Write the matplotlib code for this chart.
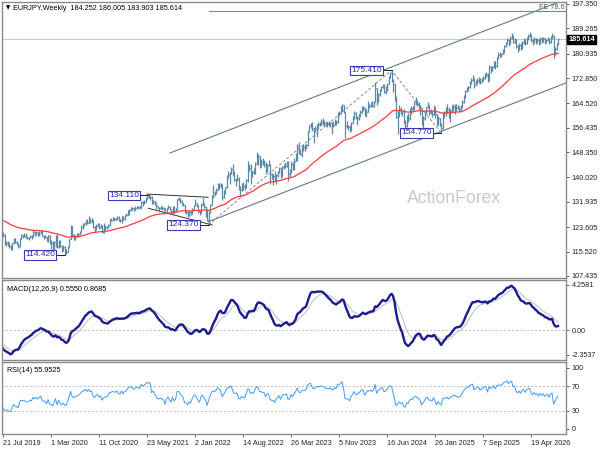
import numpy as np
import matplotlib
matplotlib.use("Agg")
import matplotlib.pyplot as plt
from matplotlib.collections import LineCollection
from matplotlib.transforms import blended_transform_factory

# ---- weekly EURJPY bars, open = previous close -----------------------------
first_open = 121.4
closes = [
    120.9, 118.0, 118.3, 118.0, 117.2, 116.6, 118.2, 119.8, 118.6, 118.2,
    117.2, 119.8, 121.0, 120.6, 120.8, 120.3, 119.9, 120.1, 120.7, 120.4,
    121.9, 121.2, 121.9, 121.1, 121.8, 122.4, 120.8, 120.2, 120.3, 119.1,
    120.6, 118.6, 118.2, 117.6, 118.6, 120.3, 116.9, 119.0, 117.2, 116.1,
    117.0, 115.6, 115.3, 117.1, 119.6, 123.8, 120.9, 119.8, 120.5, 121.1,
    121.2, 122.1, 123.7, 124.3, 124.8, 125.8, 124.9, 126.4, 125.5, 126.0,
    123.5, 122.9, 124.0, 124.6, 123.5, 124.0, 121.9, 123.0, 123.6, 123.6,
    124.2, 126.0, 126.0, 126.4, 126.3, 126.2, 126.8, 125.9, 125.9, 127.2,
    126.3, 127.5, 127.6, 128.9, 129.4, 130.0, 129.8, 129.3, 129.8, 130.3,
    130.2, 130.0, 132.0, 131.7, 132.0, 132.8, 133.6, 133.5, 133.6, 131.5,
    132.2, 131.4, 130.7, 130.0, 130.0, 130.2, 129.9, 129.7, 128.3, 129.9,
    130.4, 129.4, 128.8, 130.3, 129.0, 129.5, 132.8, 133.0, 132.3, 131.5,
    130.9, 128.6, 128.5, 127.5, 128.6, 128.0, 129.6, 130.9, 131.4, 130.5,
    129.0, 128.3, 131.0, 131.5, 130.1, 129.2, 126.0, 128.6, 131.0, 134.0,
    135.0, 134.8, 135.8, 138.0, 137.5, 136.7, 133.5, 135.0, 136.8, 140.5,
    141.0, 141.7, 142.9, 140.9, 139.3, 139.0, 139.5, 136.3, 136.0, 137.5,
    137.1, 136.8, 139.0, 143.4, 143.2, 141.0, 141.8, 141.5, 144.5, 147.5,
    147.0, 144.7, 145.1, 144.5, 144.5, 142.3, 144.1, 144.3, 141.2, 140.4,
    140.4, 139.0, 140.8, 141.8, 143.0, 140.9, 143.3, 144.0, 143.8, 144.3,
    141.2, 141.9, 144.5, 143.3, 145.6, 146.9, 150.5, 148.4, 147.8, 149.4,
    150.2, 150.0, 150.8, 155.2, 157.2, 157.9, 156.2, 155.2, 156.0, 156.9,
    157.6, 157.4, 158.3, 158.1, 157.9, 157.3, 157.6, 157.4, 157.9, 157.5,
    157.3, 158.6, 158.3, 161.4, 161.2, 162.3, 163.8, 161.6, 157.0, 156.8,
    156.8, 155.7, 158.1, 159.4, 161.4, 160.1, 159.8, 160.9, 161.8, 163.0,
    163.1, 160.9, 161.8, 163.8, 163.5, 164.2, 163.7, 164.8, 169.6, 165.1,
    167.6, 168.7, 170.0, 170.6, 168.4, 169.0, 171.0, 173.2, 174.6, 174.2,
    170.8, 166.2, 159.9, 161.0, 162.7, 161.5, 161.9, 158.0, 157.0, 160.0,
    159.6, 162.0, 163.1, 162.5, 164.8, 165.2, 164.2, 163.8, 162.4, 158.4,
    159.8, 161.2, 163.3, 163.8, 161.5, 161.7, 160.9, 163.3, 160.9, 157.3,
    159.5, 157.4, 156.2, 160.6, 161.8, 161.3, 162.3, 160.9, 161.9, 162.5,
    163.4, 164.0, 163.1, 162.8, 162.6, 163.3, 165.0, 166.8, 168.6, 169.4,
    169.8, 171.4, 172.3, 172.8, 170.6, 171.8, 172.2, 172.6, 171.5, 172.4,
    172.8, 174.2, 174.0, 172.2, 176.5, 175.6, 176.6, 178.2, 176.8, 179.4,
    180.6, 180.5, 180.9, 181.6, 183.5, 184.2, 185.3, 184.4, 186.2, 186.8,
    184.9, 185.4, 183.4, 182.6, 183.8, 182.9, 184.6, 185.5, 184.3, 185.8,
    186.9, 187.2, 185.3, 184.6, 185.8, 184.9, 185.6, 184.4, 185.9, 185.1,
    186.0, 184.8, 185.4, 185.9, 184.7, 186.3, 186.9, 181.0, 182.5, 184.252,
    185.614,
]
highs = [
    121.9, 121.3, 118.9, 119.1, 118.6, 117.7, 118.4, 120.0, 119.9, 119.0,
    118.4, 120.0, 121.3, 121.1, 121.5, 121.5, 120.7, 120.4, 120.9, 121.0,
    122.7, 122.2, 122.0, 122.0, 122.2, 122.8, 122.5, 120.9, 121.0, 120.4,
    121.0, 121.0, 119.3, 119.0, 119.0, 121.0, 121.2, 119.3, 119.2, 117.5,
    117.7, 117.2, 116.5, 117.4, 119.8, 124.4, 123.8, 121.2, 121.1, 121.8,
    121.8, 122.4, 124.2, 124.8, 125.1, 126.0, 126.4, 127.1, 126.7, 126.5,
    126.1, 124.0, 124.6, 125.0, 124.9, 124.5, 124.2, 124.8, 124.2, 124.0,
    124.7, 126.3, 126.6, 127.0, 126.8, 126.7, 127.3, 127.1, 126.4, 127.3,
    127.3, 127.6, 128.1, 129.2, 129.6, 130.2, 130.3, 130.0, 130.5, 130.7,
    130.6, 130.7, 132.1, 132.2, 132.5, 133.4, 133.9, 134.11, 134.0, 133.8,
    132.5, 132.3, 131.9, 130.7, 130.3, 130.6, 130.7, 130.4, 129.8, 130.0,
    130.8, 130.6, 129.6, 130.6, 130.5, 130.0, 133.0, 133.5, 133.2, 132.5,
    131.7, 131.0, 129.4, 128.8, 128.9, 128.9, 129.8, 131.0, 133.0, 131.6,
    130.8, 129.2, 131.4, 133.2, 131.7, 130.6, 129.7, 128.9, 131.3, 134.2,
    137.5, 135.5, 136.5, 138.3, 138.3, 138.3, 137.7, 135.8, 137.0, 140.8,
    142.3, 141.9, 143.5, 144.3, 142.3, 139.9, 141.0, 140.1, 137.3, 138.3,
    138.4, 137.7, 139.4, 145.6, 144.4, 144.6, 142.3, 143.0, 145.0, 148.4,
    147.9, 147.2, 146.0, 146.4, 145.8, 145.0, 144.5, 145.7, 144.5, 141.5,
    141.0, 142.0, 141.3, 142.3, 143.5, 143.1, 143.9, 144.3, 145.2, 145.6,
    145.4, 142.9, 145.3, 145.1, 146.3, 148.0, 151.0, 151.6, 149.5, 150.3,
    151.0, 151.0, 151.0, 155.4, 157.5, 158.0, 158.3, 156.5, 157.0, 157.6,
    158.2, 158.5, 159.3, 159.8, 159.0, 158.4, 158.6, 158.6, 158.5, 158.4,
    158.6, 159.4, 159.1, 161.6, 162.1, 163.7, 164.3, 163.9, 161.7, 158.7,
    157.5, 157.3, 158.4, 160.3, 161.9, 161.8, 160.4, 161.0, 162.3, 163.7,
    163.7, 163.3, 162.5, 165.3, 164.2, 164.9, 165.3, 165.2, 171.6, 169.7,
    168.0, 169.1, 170.2, 171.0, 170.9, 170.1, 171.2, 173.4, 175.0, 175.41,
    172.4, 170.9, 166.8, 162.0, 163.8, 163.4, 162.1, 162.6, 159.1, 160.5,
    161.3, 163.0, 163.5, 163.6, 165.4, 166.7, 165.5, 165.0, 163.9, 162.8,
    160.2, 161.6, 163.4, 164.9, 164.0, 162.6, 162.0, 164.0, 163.3, 160.9,
    160.2, 159.7, 158.0, 161.2, 162.0, 163.2, 164.2, 163.4, 162.6, 164.0,
    164.2, 164.4, 164.4, 164.1, 163.5, 163.9, 165.6, 167.1, 169.0, 170.0,
    170.2, 172.0, 173.0, 173.9, 173.0, 172.2, 172.8, 173.1, 173.0, 173.0,
    173.5, 174.4, 174.8, 174.5, 177.3, 176.9, 177.0, 178.6, 178.4, 179.8,
    181.6, 181.4, 181.2, 182.4, 183.8, 184.8, 186.0, 185.8, 186.6, 187.9,
    187.0, 186.2, 185.7, 183.9, 184.5, 184.4, 185.0, 186.1, 185.9, 186.3,
    187.4, 188.1, 187.5, 185.9, 186.4, 186.2, 186.0, 185.9, 186.3, 186.4,
    186.5, 186.2, 185.9, 186.4, 186.1, 186.6, 187.6, 187.0, 183.2, 184.6,
    186.005,
]
lows = [
    120.4, 117.6, 117.2, 117.5, 116.6, 115.9, 116.1, 117.9, 118.4, 117.6,
    116.7, 117.1, 119.6, 120.1, 120.3, 120.1, 119.5, 119.3, 119.9, 119.6,
    120.3, 120.8, 121.0, 120.5, 120.8, 121.7, 120.5, 119.6, 120.0, 118.9,
    118.8, 117.9, 116.4, 115.9, 115.4, 117.0, 116.6, 116.8, 116.9, 115.5,
    115.7, 114.42, 114.8, 115.2, 116.9, 119.5, 120.2, 119.4, 119.3, 120.3,
    120.3, 121.0, 122.1, 122.9, 123.9, 124.4, 124.6, 124.8, 125.0, 124.8,
    123.3, 121.9, 122.6, 123.8, 123.0, 123.2, 121.6, 121.8, 122.4, 122.9,
    123.4, 124.1, 125.6, 125.9, 125.5, 125.8, 125.9, 125.6, 125.4, 125.1,
    125.8, 126.1, 127.2, 127.5, 127.7, 129.0, 129.3, 128.8, 129.1, 129.8,
    129.6, 129.5, 129.9, 130.7, 131.2, 131.8, 132.8, 133.1, 132.4, 131.3,
    131.1, 130.8, 129.7, 129.8, 128.6, 129.6, 129.3, 129.1, 127.9, 128.1,
    129.7, 129.2, 128.4, 127.9, 128.3, 129.0, 129.4, 132.2, 131.6, 130.8,
    130.6, 128.3, 127.8, 127.0, 127.4, 127.6, 127.9, 129.5, 130.6, 130.1,
    128.3, 127.6, 128.3, 130.9, 129.9, 127.0, 125.6, 124.37, 128.4, 130.9,
    133.3, 133.8, 134.5, 135.7, 136.3, 136.4, 132.7, 133.3, 134.5, 136.6,
    139.8, 138.0, 141.0, 140.6, 138.8, 137.3, 138.7, 136.0, 133.4, 135.6,
    135.9, 135.8, 136.6, 138.4, 142.2, 138.0, 140.3, 141.2, 141.3, 144.3,
    144.2, 143.2, 143.4, 144.1, 143.3, 141.2, 141.9, 143.7, 137.8, 139.6,
    137.4, 138.8, 138.0, 140.3, 141.5, 139.9, 140.3, 142.8, 143.1, 143.3,
    138.8, 140.0, 141.6, 142.5, 142.6, 145.4, 145.3, 147.8, 147.3, 146.9,
    148.9, 148.6, 149.3, 150.4, 155.1, 156.5, 155.5, 151.5, 154.9, 153.5,
    155.9, 156.9, 157.3, 157.3, 157.1, 157.0, 156.6, 156.9, 156.6, 154.4,
    156.8, 157.2, 157.2, 158.0, 160.3, 161.0, 162.1, 161.2, 153.2, 156.2,
    155.6, 155.1, 155.3, 158.0, 159.2, 159.2, 157.3, 158.9, 160.1, 161.3,
    162.0, 160.3, 159.9, 161.5, 163.0, 163.4, 163.2, 163.2, 164.8, 164.0,
    164.8, 166.9, 168.5, 169.5, 168.0, 167.5, 168.7, 170.9, 173.0, 171.5,
    168.3, 165.3, 159.6, 154.4, 160.0, 161.0, 160.3, 157.6, 155.2, 156.8,
    158.2, 159.0, 161.1, 161.8, 162.4, 163.9, 163.5, 162.7, 160.7, 157.5,
    156.2, 159.0, 161.0, 163.0, 160.8, 161.0, 159.9, 160.8, 159.6, 157.0,
    157.3, 156.9, 154.77, 156.0, 159.5, 160.4, 161.2, 159.7, 158.5, 161.7,
    162.1, 160.9, 161.9, 162.6, 161.5, 161.8, 162.9, 164.6, 166.2, 168.3,
    168.6, 169.5, 170.8, 171.9, 169.6, 170.4, 170.9, 171.3, 170.9, 171.4,
    171.8, 172.5, 173.3, 171.7, 172.0, 174.6, 175.2, 176.3, 175.8, 176.6,
    179.0, 179.8, 179.9, 180.7, 181.2, 183.2, 184.0, 183.6, 184.1, 185.9,
    184.4, 184.5, 182.9, 181.5, 182.2, 182.1, 182.6, 184.2, 183.8, 184.0,
    185.5, 186.3, 184.8, 183.8, 184.3, 184.2, 184.4, 183.9, 184.1, 184.6,
    184.8, 184.1, 184.3, 185.0, 184.2, 184.5, 185.9, 179.6, 180.4, 182.2,
    183.903,
]

date_labels = ["21 Jul 2019", "1 Mar 2020", "11 Oct 2020", "23 May 2021", "2 Jan 2022",
               "14 Aug 2022", "26 Mar 2023", "5 Nov 2023", "16 Jun 2024", "26 Jan 2025",
               "7 Sep 2025", "19 Apr 2026"]
date_step = 32

price_ticks = [107.435, 115.520, 123.605, 131.935, 140.020, 148.350,
               156.435, 164.520, 172.850, 180.935, 189.265, 197.350]
macd_ticks = [4.2581, 0.0, -2.3537]
macd_tick_labels = ["4.2581", "0.00", "-2.3537"]
rsi_ticks = [100, 70, 30, 0]

# swing points marked on the chart: (bar index, price)
swing_bars = [41, 97, 137, 259, 292]
swing_prices = [114.420, 134.110, 124.370, 175.410, 154.770]

# indicator settings and the values carried in from before the first bar
ma_period, ma_seed = 55, 126.0
fast, slow, sig = 12, 26, 9
fast_seed, slow_seed, sig_seed = 122.0, 123.8, -1.3
rsi_period, gain_seed, loss_seed = 14, 0.55, 1.0

title = "EURJPY,Weekly  184.252 186.005 183.903 185.614"
macd_title = "MACD(12,26,9) 0.5550 0.8685"
rsi_title = "RSI(14) 55.9525"
last_price = 185.614
fe_level = 194.89


def ema(values, n, seed):
    a = 2.0 / (n + 1)
    out, prev = [], seed
    for v in values:
        prev = prev + a * (v - prev)
        out.append(prev)
    return np.array(out)


def wilder_rsi(values, prior, n, g0, l0):
    diffs = np.diff(np.concatenate([[prior], values]))
    g, l, out = g0, l0, []
    for d in diffs:
        g = (g * (n - 1) + max(d, 0)) / n
        l = (l * (n - 1) + max(-d, 0)) / n
        out.append(100 - 100 / (1 + g / l))
    return np.array(out)


c = np.array(closes)
h = np.array(highs)
lo = np.array(lows)
o = np.concatenate([[first_open], c[:-1]])
idx = np.arange(len(c))

ma = ema(c, ma_period, ma_seed)
macd = ema(c, fast, fast_seed) - ema(c, slow, slow_seed)
signal = ema(macd, sig, sig_seed)
rsi = wilder_rsi(c, first_open, rsi_period, gain_seed, loss_seed)

# ---- figure -----------------------------------------------------------------
plt.rcParams["font.family"] = ["Liberation Sans", "DejaVu Sans"]
FS = 5.2
BAR = "#5b89a4"
FRAME = "#8a8a8a"

fig = plt.figure(figsize=(6, 4.5), dpi=100)
W, H = 600.0, 450.0


def box(top, bottom, left=2, right=566):
    return [left / W, 1 - bottom / H, (right - left) / W, (bottom - top) / H]


ax = fig.add_axes(box(2, 278))
axm = fig.add_axes(box(280, 360))
axr = fig.add_axes(box(362, 434))

xlim = (-0.7, 375.3)
for a in (ax, axm, axr):
    a.set_xlim(*xlim)
    a.yaxis.tick_right()
    a.tick_params(axis="y", labelsize=FS, length=2.5, width=0.5, pad=1.5, colors="#222222")
    a.tick_params(axis="x", length=0)
    for s in a.spines.values():
        s.set_color(FRAME)
        s.set_linewidth(1.0)
    a.set_xticks([])

# price panel
ax.set_ylim(106.77, 198.0)
ax.set_yticks(price_ticks)
ax.set_yticklabels([f"{t:.3f}" for t in price_ticks])

ax.axhline(last_price, color="#c8c8c8", lw=0.8, zorder=1)
ax.text(188, 133.2, "ActionForex", fontsize=12.7, color="#c9c9c9", ha="center", va="center", zorder=0)
ax.texts[-1].set_x(301)

segs = []
for i in idx:
    segs.append([(i, lo[i]), (i, h[i])])
    segs.append([(i - 0.55, o[i]), (i, o[i])])
    segs.append([(i, c[i]), (i + 0.55, c[i])])
ax.add_collection(LineCollection(segs, colors=BAR, linewidths=0.9, zorder=3))
ax.plot(idx, ma, color="#ff3b3b", lw=0.9, zorder=4)

# channel, FE projection and wedge lines
slope = 0.1924
up_x = np.array([111.3, xlim[1]])
ax.plot(up_x, 148.1 + slope * (up_x - 111.3), color="#5f7f7f", lw=0.8, zorder=2)
lo_x = np.array([137.0, xlim[1]])
ax.plot(lo_x, 125.4 + slope * (lo_x - 137.0), color="#5f7f7f", lw=0.8, zorder=2)
ax.plot([137, 259, 292], [124.37, 175.41, 154.77], color="#8a8a8a", lw=0.7, ls=(0, (3, 2)), zorder=2)
ax.plot([137, xlim[1]], [fe_level, fe_level], color="#6f8f8f", lw=0.8, zorder=2)
ax.text(xlim[1] - 1, fe_level + 0.3, "FE 78.6", fontsize=FS, color="#555555", ha="right", va="bottom")
ax.plot([96, 136.7], [134.5, 133.45], color="#333333", lw=0.7, zorder=2)
ax.plot([97, 139.5], [129.8, 124.3], color="#333333", lw=0.7, zorder=2)

for b, p in zip(swing_bars, swing_prices):
    ax.plot([b - 5.5, b], [p, p], color="#202020", lw=0.7, zorder=5)
    ax.text(b - 6.3, p, f"{p:.3f}", fontsize=6, color="#2b2ba8", ha="right", va="center", zorder=6,
            bbox=dict(boxstyle="square,pad=0.15", fc="white", ec="#3a3ab8", lw=0.8))

tr = blended_transform_factory(ax.transAxes, ax.transData)
ax.text(1.004, last_price, "185.614", transform=tr, fontsize=FS, color="white", ha="left", va="center",
        fontweight="bold", bbox=dict(boxstyle="square,pad=0.2", fc="black", ec="black"), zorder=7,
        clip_on=False)

fig.text(6 / W, 1 - 8 / H, "\u25bc", fontsize=4, ha="left", va="center", family="DejaVu Sans")
fig.text(13 / W, 1 - 8 / H, title, fontsize=FS, ha="left", va="center")

# MACD panel
axm.set_ylim(-2.83, 4.73)
axm.set_yticks(macd_ticks)
axm.set_yticklabels(macd_tick_labels)
axm.axhline(0, color="#bbbbbb", lw=0.7, ls=(0, (2, 2)))
axm.plot(idx, signal, color="#c4c4c4", lw=0.8)
axm.plot(idx, macd, color="#1c1c8f", lw=1.7)
axm.text(0.008, 0.93, macd_title, transform=axm.transAxes, fontsize=FS, ha="left", va="top")

# RSI panel
axr.set_ylim(-8.2, 109.8)
axr.set_yticks(rsi_ticks)
axr.set_yticklabels([str(t) for t in rsi_ticks])
for lvl in (70, 30):
    axr.axhline(lvl, color="#bbbbbb", lw=0.7, ls=(0, (2, 2)))
axr.plot(idx, rsi, color="#3f9bff", lw=0.7)
axr.text(0.008, 0.93, rsi_title, transform=axr.transAxes, fontsize=FS, ha="left", va="top")

axr.set_xticks(np.arange(len(date_labels)) * date_step)
axr.set_xticklabels(date_labels, ha="left")
axr.tick_params(axis="x", labelsize=FS, length=2.5, width=0.5, pad=2, colors="#222222")

fig.savefig("out.png", dpi=100, facecolor="white")
